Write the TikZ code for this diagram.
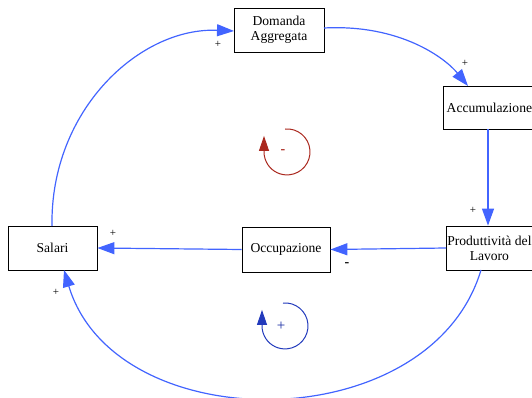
\documentclass[tikz,border=0pt]{standalone}
\usepackage{fontspec}
\setmainfont{Liberation Serif}
\usetikzlibrary{arrows.meta}
\definecolor{linkblue}{RGB}{66,100,255}
\definecolor{loopred}{RGB}{170,40,30}
\definecolor{loopblue}{RGB}{20,40,160}
\tikzset{
  var/.style={draw=black, thick, fill=white, align=center, inner sep=0pt, font=\fontsize{13.6}{15}\selectfont},
  link/.style={draw=linkblue, line width=1.2pt, -{Triangle[length=17pt,width=12pt]}},
  pol/.style={font=\fontsize{11}{12}\selectfont},
}
\begin{document}
\begin{tikzpicture}[x=1pt,y=-1pt]
\useasboundingbox (0,0) rectangle (532,398);
\node[var, minimum width=90, minimum height=44] (dom) at (279,30) {Domanda\\Aggregata};
\node[var, minimum width=92, minimum height=43, anchor=west] (acc) at (443,107.5) {Accumulazione};
\node[var, minimum width=86, minimum height=44, anchor=west] (prod) at (446,248) {Produttività del\\Lavoro};
\node[var, minimum width=89, minimum height=44] (sal) at (52.5,248) {Salari};
\node[var, minimum width=88, minimum height=45] (occ) at (286,249.5) {Occupazione};

\coordinate (salT) at (52,226);
\coordinate (domW) at (234,31);
\draw[link] (salT) .. controls (50,110) and (140,27) .. (domW);
\coordinate (domE) at (324,28);
\coordinate (accN) at (468,86);
\draw[link] (domE) .. controls (400,24) and (445,58) .. (accN);
\draw[link] (acc.south -| 488,0) -- (prod.north -| 488,0);
\draw[link] (prod.west) -- (occ.east);
\draw[link] (occ.west) -- (sal.east);
\coordinate (prodS) at (481,270);
\coordinate (salS) at (64,270);
\draw[link] (prodS) .. controls (430,440) and (115,440) .. (salS);

\node[pol] (p1) at (218,44) {+};
\node[pol] (p2) at (465,63) {+};
\node[pol] (p3) at (473,210) {+};
\node[pol, font=\fontsize{14}{14}\selectfont\bfseries] (p4) at (347,265) {-};
\node[pol] (p5) at (113,233) {+};
\node[pol] (p6) at (56,292) {+};

% loops
\coordinate (rc) at (283,152);
\draw[loopred, line width=1pt, -{Triangle[length=15pt,width=10pt]}] (285,129) arc[start angle=-95, end angle=180, radius=23] -- ++(0,-16);
\node[text=loopred, font=\fontsize{14}{14}\selectfont\bfseries] (rm) at (rc) {-};
\coordinate (bc) at (281,326);
\draw[loopblue!70!linkblue, line width=1pt, -{Triangle[length=15pt,width=10pt]}] (283,303) arc[start angle=-95, end angle=180, radius=23] -- ++(0,-16);
\node[text=loopblue, font=\fontsize{15}{15}\selectfont] (bp) at (bc) {+};
\end{tikzpicture}
\end{document}
